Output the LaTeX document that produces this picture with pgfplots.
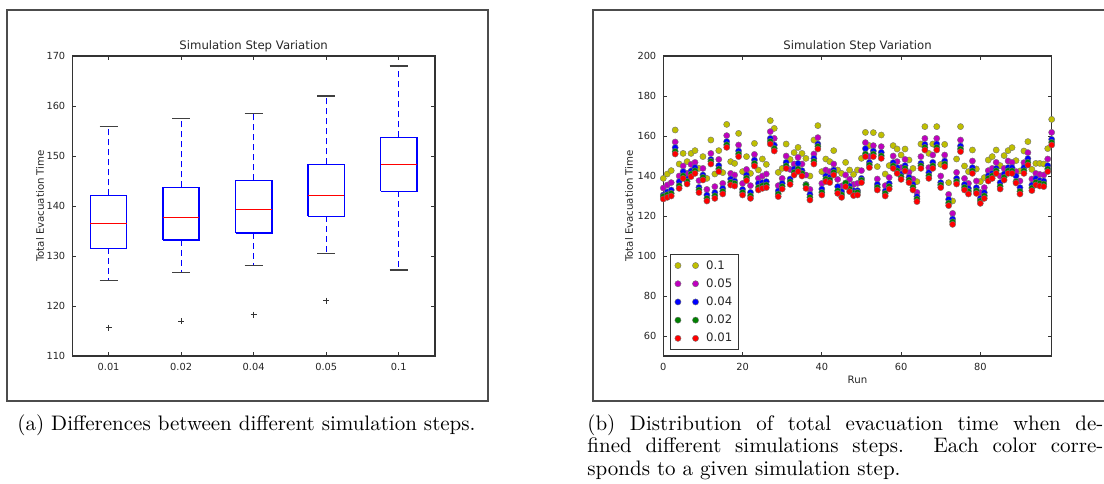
\documentclass[border=0pt]{standalone}
\usepackage{fontspec}
\newfontfamily\dv{DejaVu Sans}
\usepackage{pgfplots}
\usepackage{pgfplotstable}
\pgfplotsset{compat=1.18}

\definecolor{mplY}{rgb}{0.75,0.75,0}
\definecolor{mplM}{rgb}{0.75,0,0.75}
\definecolor{mplB}{rgb}{0,0,1}
\definecolor{mplG}{rgb}{0,0.5,0}
\definecolor{mplR}{rgb}{1,0,0}

\pgfplotstableread{
run a b c d e
0 128.5 129.8 130.5 134.0 138.8
1 129.3 130.6 132.0 135.5 141.0
2 130.0 131.3 133.0 136.7 142.7
3 151.0 152.3 154.2 157.0 163.0
4 133.8 135.1 137.2 140.0 146.0
5 138.8 140.1 142.2 145.0 151.3
6 136.0 137.3 138.5 141.3 147.2
7 139.7 141.0 142.5 145.8 151.3
8 141.3 142.6 144.2 146.8 152.7
9 131.7 133.0 134.3 137.7 143.8
10 138.0 139.3 140.5 143.8 149.7
11 127.5 128.8 130.5 133.3 138.8
12 146.0 147.3 148.3 151.3 158.0
13 128.8 130.1 131.7 134.7 141.0
14 142.2 143.5 145.2 148.3 152.7
15 131.0 132.3 133.8 136.3 141.7
16 154.3 155.6 157.2 160.2 165.8
17 135.5 136.8 138.5 141.3 147.2
18 135.0 136.3 137.5 140.5 146.3
19 149.7 151.0 152.5 155.5 161.3
20 130.5 131.8 133.3 136.3 142.2
21 137.7 139.0 140.5 143.3 149.7
22 128.8 130.1 131.8 135.2 141.3
23 145.0 146.3 148.0 150.8 156.3
24 133.0 134.3 136.3 138.8 143.0
25 133.8 135.1 136.7 140.0 148.5
26 134.2 135.5 137.2 141.0 145.8
27 156.0 157.3 158.8 162.2 167.7
28 152.5 153.8 155.5 158.8 163.8
29 129.7 131.0 132.5 135.2 141.8
30 133.5 134.8 136.3 138.8 143.8
31 143.8 145.1 146.8 150.0 156.0
32 135.8 137.1 138.5 143.3 148.3
33 140.5 141.8 143.5 146.0 151.7
34 142.2 143.5 146.3 149.3 154.3
35 140.0 141.3 142.7 146.0 151.3
36 133.8 135.5 135.8 140.5 148.8
37 128.0 129.3 130.8 133.3 140.0
38 146.0 147.3 148.8 151.0 158.0
39 153.5 154.8 156.0 159.2 165.2
40 130.5 131.8 133.5 136.3 142.2
41 137.2 138.5 140.0 143.0 148.5
42 136.7 138.0 139.3 142.2 147.2
43 140.5 141.8 143.0 146.0 152.7
44 131.3 132.6 134.7 138.3 143.0
45 129.3 130.6 132.2 135.0 141.3
46 134.7 136.5 136.3 140.5 146.8
47 132.2 133.5 135.0 138.3 143.0
48 130.2 131.5 132.7 135.8 140.8
49 130.5 131.8 132.7 136.3 143.0
50 136.7 138.0 138.8 142.7 148.8
51 149.7 151.0 153.7 156.7 161.8
52 144.2 145.5 146.8 149.7 155.2
53 149.7 151.0 152.5 155.2 161.7
54 133.0 134.3 135.8 138.5 144.7
55 148.8 150.1 151.8 154.7 160.5
56 130.0 131.3 132.5 135.2 141.0
57 133.5 134.8 136.3 139.3 145.2
58 143.8 145.1 146.7 150.0 155.2
59 141.3 142.6 144.2 147.2 153.5
60 138.3 139.6 141.0 144.2 150.5
61 142.5 143.8 145.2 148.3 153.5
62 136.7 138.0 139.3 141.8 148.0
63 133.0 134.3 135.8 138.5 143.8
64 127.2 128.5 129.7 131.8 137.2
65 143.8 145.1 146.3 149.7 156.0
66 153.0 154.3 155.8 158.8 164.7
67 138.8 140.1 141.7 144.2 151.3
68 143.8 145.1 146.8 150.5 156.0
69 153.0 154.3 156.0 158.8 164.7
70 134.2 135.5 136.7 140.0 145.8
71 144.7 146.0 147.5 150.5 155.8
72 125.2 126.5 128.3 130.8 136.7
73 115.8 117.1 118.5 121.3 127.5
74 136.0 137.3 138.8 141.8 148.5
75 152.2 153.5 155.0 158.0 164.7
76 133.0 134.3 135.8 138.8 145.0
77 131.0 132.3 133.8 136.3 142.2
78 141.3 142.6 144.2 147.5 153.0
79 131.3 132.6 134.2 137.5 143.5
80 126.3 127.6 128.8 131.7 137.2
81 128.8 130.1 131.7 134.2 139.2
82 137.5 138.8 140.2 142.7 148.0
83 138.8 140.1 141.3 143.8 149.7
84 141.3 142.6 143.8 146.8 153.0
85 133.5 134.8 136.7 140.0 145.2
86 138.0 139.3 141.0 143.8 150.2
87 141.3 142.6 144.2 147.5 152.7
88 141.3 142.6 144.2 146.8 154.2
89 136.5 137.2 140.0 142.2 147.7
90 131.0 132.3 134.2 137.5 142.5
91 141.3 142.6 144.2 146.7 152.5
92 145.5 146.8 148.7 151.7 157.2
93 132.7 134.0 135.5 138.5 143.3
94 135.5 136.8 138.7 141.3 146.3
95 135.0 136.3 137.7 140.8 146.3
96 134.7 136.0 137.5 140.5 146.0
97 142.2 143.5 145.2 148.5 153.7
98 155.5 156.8 158.3 161.8 168.3
}\scatterdata

\pgfplotsset{
  mplaxis/.style={
    scale only axis,
    height=150pt,
    axis line style={black!80, line width=0.55pt},
    major tick length=2pt,
    tick style={black!80, line width=0.4pt},
    tick label style={font=\dv\fontsize{4.9}{6}\selectfont, text=black!85},
    /pgf/number format/assume math mode=true,
    label style={font=\dv\fontsize{5.1}{6}\selectfont, text=black!85},
    every axis title shift=0pt,
    title style={font=\dv\fontsize{5.85}{7}\selectfont, text=black!85, at={(axis description cs:0.5,1.02)}, anchor=base},
  },
  dotser/.style={only marks, mark=*, mark size=1.55pt,
    mark options={draw=black!55, line width=0.2pt, fill=#1},
    legend image code/.code={\draw[##1] plot coordinates {(0pt,0pt) (8.8pt,0pt)};}},
}

\begin{document}
\begin{tikzpicture}[x=1pt,y=1pt]
\path[use as bounding box] (0,0) rectangle (552,241.5);
% frames
\draw[black!70, line width=0.9pt] (3.35,41) rectangle (244.15,236.5);
\draw[black!70, line width=0.9pt] (296.35,41) rectangle (600,236.5);

% left: box plot (0.01, 0.02, 0.04, 0.05, 0.1 at positions 1..5)
\begin{axis}[mplaxis,
  at={(36.15pt,63.5pt)}, anchor=south west,
  width=181.35pt,
  xmin=0.5, xmax=5.5, ymin=110, ymax=170,
  xtick={1,2,3,4,5}, xticklabels={0.01,0.02,0.04,0.05,0.1},
  ytick={110,120,...,170},
  title={Simulation Step Variation},
  ylabel={Total Evacuation Time},
  ylabel style={at={(axis description cs:-0.089,0.5)}, anchor=center},
  unbounded coords=jump,
]
% whiskers (dashed, from quartile to whisker end)
\addplot[mplB, line width=0.6pt, dash pattern=on 3pt off 2pt] coordinates {
  (1,142.1) (1,155.9) (nan,nan) (1,131.5) (1,125.1) (nan,nan)
  (2,143.7) (2,157.5) (nan,nan) (2,133.2) (2,126.7) (nan,nan)
  (3,145.1) (3,158.5) (nan,nan) (3,134.6) (3,128.1) (nan,nan)
  (4,148.3) (4,162.0) (nan,nan) (4,137.9) (4,130.5) (nan,nan)
  (5,153.7) (5,168.0) (nan,nan) (5,142.9) (5,127.2)
};
% whisker caps
\addplot[black!75, line width=0.75pt] coordinates {
  (0.875,155.9) (1.125,155.9) (nan,nan) (0.875,125.1) (1.125,125.1) (nan,nan)
  (1.875,157.5) (2.125,157.5) (nan,nan) (1.875,126.7) (2.125,126.7) (nan,nan)
  (2.875,158.5) (3.125,158.5) (nan,nan) (2.875,128.1) (3.125,128.1) (nan,nan)
  (3.875,162.0) (4.125,162.0) (nan,nan) (3.875,130.5) (4.125,130.5) (nan,nan)
  (4.875,168.0) (5.125,168.0) (nan,nan) (4.875,127.2) (5.125,127.2)
};
% boxes (lower quartile to upper quartile)
\addplot[mplB, line width=0.75pt] coordinates {
  (0.75,131.5) (1.25,131.5) (1.25,142.1) (0.75,142.1) (0.75,131.5) (nan,nan)
  (1.75,133.2) (2.25,133.2) (2.25,143.7) (1.75,143.7) (1.75,133.2) (nan,nan)
  (2.75,134.6) (3.25,134.6) (3.25,145.1) (2.75,145.1) (2.75,134.6) (nan,nan)
  (3.75,137.9) (4.25,137.9) (4.25,148.3) (3.75,148.3) (3.75,137.9) (nan,nan)
  (4.75,142.9) (5.25,142.9) (5.25,153.7) (4.75,153.7) (4.75,142.9)
};
% medians
\addplot[mplR, line width=0.75pt] coordinates {
  (0.75,136.5) (1.25,136.5) (nan,nan)
  (1.75,137.7) (2.25,137.7) (nan,nan)
  (2.75,139.3) (3.25,139.3) (nan,nan)
  (3.75,142.1) (4.25,142.1) (nan,nan)
  (4.75,148.3) (5.25,148.3)
};
% outliers
\addplot[only marks, mark=+, mark size=1.5pt, mark options={black!80, line width=0.4pt}] coordinates {
  (1,115.7) (2,117.0) (3,118.3) (4,121.1)
};
\end{axis}

% right: scatter
\begin{axis}[mplaxis,
  at={(331.65pt,63.5pt)}, anchor=south west,
  width=194.2pt,
  xmin=0, xmax=98, ymin=50, ymax=200,
  xtick={0,20,40,60,80}, ytick={60,80,...,200},
  title={Simulation Step Variation},
  xlabel={Run},
  ylabel={Total Evacuation Time},
  ylabel style={at={(axis description cs:-0.0883,0.5)}, anchor=center},
  xlabel style={at={(axis description cs:0.5,-0.08)}, anchor=center},
  legend style={at={(0.018,0.02)}, anchor=south west, draw=black!80, line width=0.55pt,
    font=\dv\fontsize{5.85}{7}\selectfont, text=black!85, inner xsep=2pt, inner ysep=1pt,
    row sep=0pt, nodes={inner sep=1.3pt, text height=5pt, text depth=1.5pt},
    /tikz/every odd column/.append style={column sep=2.5pt}},
  legend cell align=left,
]
\addplot[dotser=mplY] table[x=run,y=e] {\scatterdata};
\addlegendentry{0.1}
\addplot[dotser=mplM] table[x=run,y=d] {\scatterdata};
\addlegendentry{0.05}
\addplot[dotser=mplB] table[x=run,y=c] {\scatterdata};
\addlegendentry{0.04}
\addplot[dotser=mplG] table[x=run,y=b] {\scatterdata};
\addlegendentry{0.02}
\addplot[dotser=mplR] table[x=run,y=a] {\scatterdata};
\addlegendentry{0.01}
\end{axis}

% captions
\node[anchor=base west, inner sep=0, font=\fontsize{10.5}{12}\selectfont] at (8.5,26.5) {(a) Differences between different simulation steps.};
\node[anchor=base west, inner sep=0] at (293.5,26.5) {\parbox[t]{258pt}{\fontsize{10.5}{11.3}\selectfont (b) Distribution of total evacuation time when de-\linebreak fined different simulations steps. Each color corre-\linebreak sponds to a given simulation step.}};
\end{tikzpicture}
\end{document}
